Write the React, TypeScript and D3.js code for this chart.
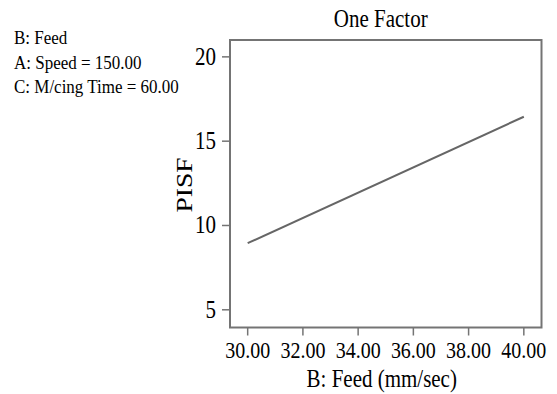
import React from "react";
import * as d3 from "d3";

const feedValues = [30, 40];
const pisfValues = [8.95, 16.45];
const xTicks = [30, 32, 34, 36, 38, 40];
const yTicks = [5, 10, 15, 20];
const infoLines = ["B: Feed", "A: Speed = 150.00", "C: M/cing Time = 60.00"];

const SY = 1.15;

function T(props: { x: number; y: number; size: number; anchor?: string; children: React.ReactNode; rotate?: boolean }) {
  const { x, y, size, anchor = "start", children, rotate } = props;
  return (
    <text
      transform={`translate(${x},${y}) scale(1,${SY})${rotate ? " rotate(-90)" : ""}`}
      textAnchor={anchor}
      fontSize={size}
      fill="#000"
    >
      {children}
    </text>
  );
}

export default function App() {
  const W = 557, H = 394;
  const left = 230, right = 541.5, top = 40, bottom = 327.5;
  const x = d3.scaleLinear().domain([29.36, 40.64]).range([left, right]);
  const y = d3.scaleLinear().domain([3.95, 21.0]).range([bottom, top]);
  const pts = feedValues.map((f, i) => [f, pisfValues[i]] as [number, number]);
  const line = d3.line<[number, number]>().x(d => x(d[0])).y(d => y(d[1]));
  const font = "'Liberation Serif', 'Times New Roman', serif";
  return (
    <svg width={W} height={H} style={{ position: "absolute", left: 0, top: 0, background: "#fff" }} fontFamily={font}>
      <rect x={0} y={0} width={W} height={H} fill="#fff" />
      {infoLines.map((t, i) => (
        <T key={i} x={14} y={44 + i * 24.5} size={17}>{t}</T>
      ))}
      <T x={(left + right) / 2 - 5} y={27} size={21} anchor="middle">One Factor</T>
      <rect x={left} y={top} width={right - left} height={bottom - top} fill="none" stroke="#747474" strokeWidth={2} />
      {yTicks.map(t => (
        <g key={t}>
          <line x1={left - 8} x2={left} y1={y(t)} y2={y(t)} stroke="#747474" strokeWidth={1.5} />
          <T x={left - 14} y={y(t) + 8} size={21} anchor="end">{t}</T>
        </g>
      ))}
      {xTicks.map(t => (
        <g key={t}>
          <line x1={x(t)} x2={x(t)} y1={bottom} y2={bottom + 8} stroke="#747474" strokeWidth={1.5} />
          <T x={x(t)} y={358} size={20} anchor="middle">{t.toFixed(2)}</T>
        </g>
      ))}
      <T x={(left + right) / 2 - 4} y={387} size={21} anchor="middle">B: Feed (mm/sec)</T>
      <T x={192} y={185} size={24} anchor="middle" rotate>PISF</T>
      <path d={line(pts) ?? ""} fill="none" stroke="#666" strokeWidth={2} />
    </svg>
  );
}
